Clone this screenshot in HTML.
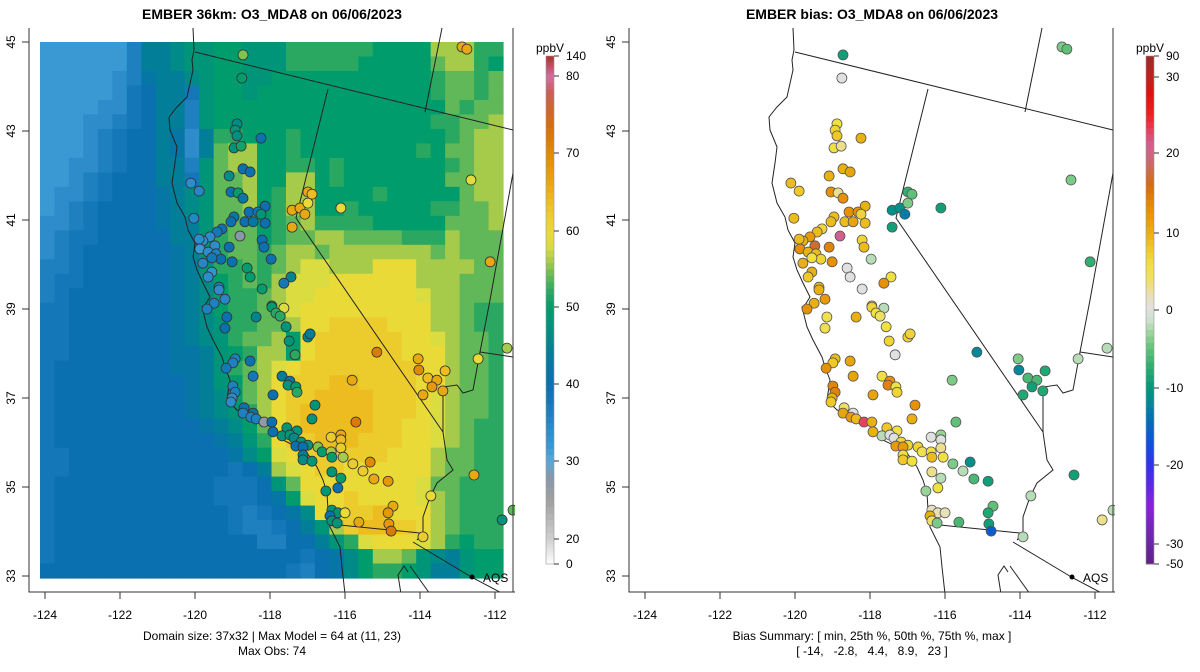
<!DOCTYPE html>
<html><head><meta charset="utf-8">
<style>
html,body{margin:0;padding:0;background:#fff;}
svg{display:block;font-family:"Liberation Sans",Arial,sans-serif;}
</style></head>
<body>
<svg id="fig" width="1200" height="672" viewBox="0 0 1200 672" xmlns="http://www.w3.org/2000/svg">
<defs>
<clipPath id="clipL"><rect x="29" y="28" width="486" height="564"/></clipPath>
<clipPath id="clipR"><rect x="629" y="28" width="486" height="564"/></clipPath>
<g id="geo">
<path d="M193,28 L194,50 L192,60 L193,70 L187,97 L180,104 L177,107 L169,117 L170,130 L177,147 L175,163 L172,183 L177,203 L185,217 L188,230 L195,243 L193,257 L197,270 L203,283 L210,297 L205,305 L202,307 L207,327 L213,340 L222,357 L225,367 L230,380 L227,400 L237,410 L257,415 L270,423 L283,440 L297,447 L307,453 L317,467 L323,480 L327,493 L328,510 L330,527 L340,547 L342,567 L345,594" fill="none" stroke="#222" stroke-width="1"/>
<path d="M195,52 L513,130 M442,28 L425,112 M328,89 L296,218 L443,432 L447,460 L453,470 L437,483 L430,497 L423,517 L423,533 L417,540 M340,525 L420,533 M413,542 L473,578 L515,600 M513,173 L490,300 L480,352 L473,390 L463,393 L457,385 L443,387 L443,432 M480,352 L513,357 M401,594 L398,575 L404,566 L408,572 M410,566 L420,580 L430,594" fill="none" stroke="#222" stroke-width="1"/>
</g>
</defs>
<text x="272" y="19" text-anchor="middle" font-weight="bold" font-size="14">EMBER 36km: O3_MDA8 on 06/06/2023</text>
<text x="872" y="19" text-anchor="middle" font-weight="bold" font-size="14">EMBER bias: O3_MDA8 on 06/06/2023</text>
<g id="left-field" clip-path="url(#clipL)"></g>
<g clip-path="url(#clipL)"><use href="#geo"/></g>
<g clip-path="url(#clipR)"><use href="#geo" transform="translate(600,0)"/></g>
<g id="left-points" clip-path="url(#clipL)"></g>
<g id="right-points" clip-path="url(#clipR)"></g>
<g id="axes"></g>
<g id="cbars"></g>
<text x="272" y="640" text-anchor="middle" font-size="12">Domain size: 37x32 | Max Model = 64 at (11, 23)</text>
<text x="272" y="655" text-anchor="middle" font-size="12">Max Obs: 74</text>
<text x="872" y="640" text-anchor="middle" font-size="12">Bias Summary: [ min, 25th %, 50th %, 75th %, max ]</text>
<text x="872" y="655" text-anchor="middle" font-size="12" xml:space="preserve" style="white-space:pre">[ -14,   -2.8,   4.4,   8.9,   23 ]</text>
</svg>
<script>
// ---- model field (37 rows x 32 cols), letter code: value = 30 + 2*(code-'A')
const fieldRows = [
"BBBBBBDHHIJJKKJJJLLLLLLKKKKNNNLL",
"BBBBBBDHHIJJKKJJJLLLLLKKKKKMNNLK",
"BBBBBCDGHHIJKKJJKKKKKKKKKKKLMMLM",
"BBBBBCEFHHEJKKJKKKKKKKKKKKKLMMLM",
"BBBBCCEFHHDJKKKKKKKKKKKKKKKKMLMM",
"BBBCCDEFHHDJKKKKKKKKKKKKKKKLLMMN",
"BBBCDEFFHGCHLLKKKLKKKKKKKKKKLMNN",
"BBBCDEFFHGCHMNNKKLKKKKKKKKLKMMNN",
"BBCCDEFFHHDJMNNKKLLKLKKKKKKKLMNN",
"BBCDEFFFHHEJMMNKKNNKLKKKKKKKMMNN",
"BCCDEFFFGHIJMMNKLNNKKKKLKKKKKMNN",
"BCDEFFFFGHIJMMNKLNNKKLKKKKKLLMMN",
"CCDEFFFFGHHJMMMKLMNLLLLKKKKKMMMN",
"CDEEFFFFFHHJLMMKLMMNNMMMMLLLNMMM",
"CDEFFFFFFGHJLMMLMNNMNNNNNNNMNMMM",
"DDEFFFFFFGHJLLMLMNOONNNPPPNNNNMM",
"DEEFFFFFFGHIKLMLNOOOPPPPPPNNNMMM",
"DEFFFFFFFGHIKLLMNOOPPPPPPPONNMMM",
"EEFFFFFFFGHIKLLMNOPPPPPPPPPNNMLL",
"EEFFFFFFFGHIJLLMMNPPQQQQPPPNNMLL",
"EEFFFFFFFGHIJLMMNKPQQQQQQPPONMML",
"EEFFFFFFFGGHJKLNNKPQQQQQQPPPNMML",
"EFFFFFFFFGGHJLMNOPQQQQQQQQPPNMML",
"EFFFFFFFFFGHJKMNPQQQRRQQQQPPNMML",
"EFFFFFFFFFGHIKMNPQQRRRRQQQPONMML",
"EFFFFFFFFFGHIJLNPQRRRRRQQQPONMML",
"EFFFFFFFFFFGHIKMPQRRRRRQQPPONMLL",
"EFFFFFFFFFFFGHJLPQQRRRQQQPPONMLL",
"EEFFFFFFFFFFFGIKOPQQQQQQPPPNMMLL",
"EEFFFFFFFFFFFEFHNOPQQPPPPPPNMMLL",
"EFFFFFFFFFFFEEEFJMPPPPPPPPOMMLLL",
"EFFFFFFFFFFFEEEFGKOPPQPPPPONMLLL",
"EFFFFFFFFFFFFEDEFGIPPQQRPPPNMLLL",
"EFFFFFFFFFFFFEDDEFHJNQRRQQPNMLLL",
"EFFFFFFFFFFFFFFDDFFHJLOPPPONLKLL",
"EFFFFFFFFFFFFFFFFFEFGIKNNMJIHJKK",
"FFFFFFFFFFFFFFFFFEDFGIKLLKJHHJKK"
];
// ---- monitor stations
const stLon = [-118.72,-118.75,-118.88,-118.93,-118.88,-118.24,-118.96,-118.77,-112.88,-112.75,-120.11,-119.89,-119.09,-118.72,-118.53,-119.04,-118.85,-118.72,-118.13,-118.56,-118.32,-118.24,-118.96,-119.04,-118.67,-118.45,-118.13,-119.28,-119.41,-120.03,-117.41,-117.2,-117.07,-116.99,-116.88,-116.99,-116.11,-117.41,-112.64,-112.13,-118.8,-119.6,-119.79,-119.89,-119.47,-119.87,-119.65,-119.44,-119.31,-119.55,-119.09,-118.21,-118.16,-119.01,-119.79,-119.55,-119.65,-117.97,-118.61,-118.53,-117.44,-117.63,-118.21,-119.36,-119.36,-119.2,-119.49,-119.68,-117.95,-117.63,-119.15,-118.37,-117.95,-117.84,-117.73,-119.2,-117.57,-116.99,-116.93,-117.49,-117.33,-115.15,-114.05,-114.03,-113.33,-113.79,-113.55,-113.68,-113.39,-113.92,-112.45,-111.68,-118.93,-118.99,-119.17,-118.53,-118.45,-117.68,-117.47,-117.52,-117.31,-117.28,-117.92,-115.81,-118.99,-118.93,-119.01,-119.04,-116.8,-116.88,-115.71,-118.69,-118.72,-118.45,-118.51,-118.37,-118.16,-117.95,-117.55,-117.28,-117.92,-117.68,-117.47,-117.36,-117.17,-116.99,-117.31,-117.12,-116.72,-116.37,-116.11,-116.11,-116.11,-116.61,-116.37,-116.35,-116.05,-117.12,-117.12,-116.88,-115.79,-115.52,-115.33,-115.23,-114.85,-116.35,-116.11,-116.19,-116.51,-112.56,-113.71,-114.72,-114.85,-116.35,-116.19,-116.0,-116.4,-116.35,-116.21,-115.63,-114.83,-114.77,-113.92,-111.81,-111.52];
const stLat = [44.71,44.19,43.16,43.02,42.89,42.84,42.62,42.66,44.89,44.84,41.83,41.65,41.99,42.15,42.08,41.63,41.61,41.49,41.31,41.18,41.18,41.13,41.07,40.96,40.96,40.96,40.93,40.8,40.73,41.04,41.22,41.27,41.13,41.63,41.58,41.38,41.27,40.84,41.9,40.06,40.64,40.62,40.53,40.57,40.42,40.35,40.28,40.24,40.12,40.15,40.39,40.55,40.39,40.06,40.03,39.83,39.72,40.12,39.92,39.72,39.72,39.58,39.45,39.49,39.43,39.22,39.13,39.0,39.07,39.02,38.82,38.82,39.04,38.91,38.84,38.57,38.6,38.37,38.44,38.28,37.97,38.03,37.88,37.63,37.61,37.45,37.4,37.25,37.16,37.07,37.88,38.12,37.88,37.79,37.67,37.83,37.49,37.49,37.38,37.29,37.25,37.13,37.07,37.4,37.27,37.13,37.0,36.91,36.84,36.53,36.46,36.78,36.66,36.66,36.57,36.53,36.46,36.46,36.33,36.26,36.24,36.15,36.17,36.1,36.01,35.94,35.92,35.9,35.9,36.12,36.17,36.06,35.88,35.79,35.79,35.67,35.67,35.72,35.61,35.58,35.52,35.36,35.56,35.18,35.13,35.34,35.2,34.98,34.91,35.27,34.8,34.57,34.42,34.48,34.42,34.42,34.35,34.24,34.19,34.21,34.17,34.01,33.88,34.26,34.48];
const obsValues = [55,50,46,48,47,40,48,51,66,66,34,35,46,40,40,40,50,42,40,40,38,48,42,40,40,42,40,40,38,35,66,66,66,66,64,60,60,66,59,66,28,34,34,34,34,32,34,36,40,38,40,40,40,40,35,33,34,40,50,50,45,38,50,36,34,35,36,36,48,58,40,45,50,52,52,40,48,45,44,48,52,72,66,70,64,64,66,68,66,66,60,56,36,36,38,40,38,44,42,48,50,52,40,66,36,36,34,34,48,48,72,40,36,42,36,36,27,40,48,48,40,48,48,46,48,48,40,40,55,62,66,64,62,50,56,50,56,44,46,48,62,62,70,66,68,48,50,40,48,66,60,66,68,48,48,60,40,48,48,66,68,72,62,48,54];
const biasValues = [-9,0,6,7,8,10,6,3,-4,-5,9,8,10,10,11,13,3,13,10,13,13,7,9,9,9,11,9,7,9,9,-11,-11,-13,-7,-5,-4,-9,-9,-4,-7,21,12,10,9,17,13,10,9,7,6,14,7,9,13,10,10,8,-2,0,0,6,13,0,9,10,12,10,13,7,-2,5,10,7,6,4,5,6,7,7,7,0,-12,-4,-12,-8,-6,-6,-9,-8,-8,-2,-2,9,8,13,11,11,6,13,14,6,7,11,-4,14,14,10,8,13,10,-5,4,11,0,12,9,23,10,8,6,10,-2,0,0,7,7,12,12,7,0,-3,0,3,5,6,9,6,6,8,6,-4,-2,-11,-6,-9,3,-2,6,-3,-9,-2,-5,-8,2,2,2,10,4,-4,-6,-9,-16,-2,3,-2];
// ---- axis ticks
const lonTicks = [-124,-122,-120,-118,-116,-114,-112];
const latTicks = [33,35,37,39,41,43,45];
const obsBarTicks = [0,20,30,40,50,60,70,80,140];
const biasBarTicks = [-50,-30,-20,-10,0,10,20,30,90];

const NS = "http://www.w3.org/2000/svg";
function mk(tag, attrs, parent){
  const e = document.createElementNS(NS, tag);
  for (const k in attrs) e.setAttribute(k, attrs[k]);
  parent.appendChild(e);
  return e;
}
function sx(lon, off){ return off + 45 + (lon + 124) * 37.5; }
function sy(lat){ return 576 - (lat - 33) * 44.5; }

function hex2rgb(h){ return [parseInt(h.substr(1,2),16),parseInt(h.substr(3,2),16),parseInt(h.substr(5,2),16)]; }
function interpColor(stops, v){
  if (v <= stops[0][0]) return stops[0][1];
  for (let i=1;i<stops.length;i++){
    if (v <= stops[i][0]){
      const a=stops[i-1], b=stops[i];
      const t=(v-a[0])/(b[0]-a[0]);
      const ca=hex2rgb(a[1]), cb=hex2rgb(b[1]);
      return "rgb("+ca.map((c,j)=>Math.round(c+(cb[j]-c)*t)).join(",")+")";
    }
  }
  return stops[stops.length-1][1];
}
const obsStops = [[0,"#ffffff"],[20,"#d0d0d0"],[25,"#a0a0a0"],[28,"#8898a8"],[30,"#5aa8d8"],[32,"#3a98d2"],[34,"#2e8cca"],[36,"#1f80c0"],[38,"#1478b8"],[40,"#0a70b0"],[42,"#0676a4"],[44,"#027e98"],[46,"#008a88"],[48,"#009478"],[50,"#009c6c"],[52,"#2aa862"],[54,"#60b858"],[56,"#a6ca4a"],[58,"#dadc40"],[60,"#eada38"],[62,"#eccc2c"],[64,"#ecbc20"],[66,"#e8a812"],[70,"#e08a00"],[74,"#d86a10"],[78,"#c8605a"],[80,"#d070a0"],[140,"#b03030"]];
const biasStops = [[-50,"#602080"],[-30,"#6828a0"],[-25,"#8a20e0"],[-20,"#3030f0"],[-17,"#1050e0"],[-14,"#0070b8"],[-12,"#008898"],[-10,"#00987a"],[-7,"#30b070"],[-5,"#60c078"],[-3,"#98d498"],[-1.5,"#c8e0c8"],[0,"#e0e0e0"],[2,"#e8e0b8"],[4,"#f0e060"],[6,"#f0e040"],[8,"#f0c828"],[10,"#e8b010"],[13,"#e89000"],[16,"#d86a10"],[19,"#c86a70"],[21,"#d06090"],[23,"#e84060"],[25,"#f02020"],[28,"#e01010"],[30,"#c02020"],[90,"#a02828"]];

// ---- field
const fieldG = document.getElementById("left-field");
const nR = fieldRows.length, nC = 32;
const cw = 463 / nC, ch = 536 / nR;
for (let r=0;r<nR;r++){
  for (let c=0;c<nC;c++){
    const code = fieldRows[r].charCodeAt(Math.min(c, fieldRows[r].length-1)) - 65;
    const v = 30 + 2*code;
    const cell = mk("rect",{x:(40+c*cw).toFixed(2),y:(42+r*ch).toFixed(2),width:(cw+0.6).toFixed(2),height:(ch+0.6).toFixed(2),fill:interpColor(obsStops,v)},fieldG);
    
    
  }
}

// ---- points
const lp = document.getElementById("left-points"), rp = document.getElementById("right-points");
for (let i=0;i<stLon.length;i++){
  const a = mk("circle",{cx:sx(stLon[i],0),cy:sy(stLat[i]),r:5,fill:interpColor(obsStops,obsValues[i]),stroke:"#333","stroke-width":0.8},lp);
  
  
  const b = mk("circle",{cx:sx(stLon[i],600),cy:sy(stLat[i]),r:5,fill:interpColor(biasStops,biasValues[i]),stroke:"#555","stroke-width":0.8},rp);
  
  
}

// ---- axes
const ax = document.getElementById("axes");
[0,600].forEach(off=>{
  const frame = mk("path",{d:`M${off+29},28 L${off+29},592 L${off+515},592 M${off+513},28 L${off+513},592`,fill:"none",stroke:"#333","stroke-width":1},ax);
  
  
  lonTicks.forEach(t=>{
    const x = sx(t,off);
    const tk = mk("line",{x1:x,x2:x,y1:592,y2:599,stroke:"#333"},ax);
    
    
    const lb = mk("text",{x:x,y:619,"text-anchor":"middle","font-size":12},ax);
    lb.textContent = String(t);
    
    
  });
  latTicks.forEach(t=>{
    const y = sy(t);
    const tk = mk("line",{x1:off+22,x2:off+29,y1:y,y2:y,stroke:"#333"},ax);
    
    
    const lb = mk("text",{x:0,y:0,"text-anchor":"middle","font-size":12,transform:`translate(${off+15},${y}) rotate(-90)`},ax);
    lb.textContent = String(t);
    
    
  });
  const dot = mk("circle",{cx:off+472,cy:577,r:2.5,fill:"#000"},ax);
  
  
  const aq = mk("text",{x:off+483,y:582,"font-size":12},ax);
  aq.textContent = "AQS";
  
  
});

// ---- colorbars
const cb = document.getElementById("cbars");
function drawBar(x0, vals, ys, stops, ticks){
  const ymap = v => { for(let i=1;i<vals.length;i++){ if(v<=vals[i]){ const t=(v-vals[i-1])/(vals[i]-vals[i-1]); return ys[i-1]+(ys[i]-ys[i-1])*t; } } return ys[ys.length-1]; };
  for (let i=0;i<vals.length-1;i++){
    const n=12;
    for (let k=0;k<n;k++){
      const v0 = vals[i]+(vals[i+1]-vals[i])*k/n, v1 = vals[i]+(vals[i+1]-vals[i])*(k+1)/n;
      const y0=ymap(v0), y1=ymap(v1);
      const s = mk("rect",{x:x0,y:Math.min(y0,y1),width:8,height:Math.abs(y1-y0)+0.5,fill:interpColor(stops,(v0+v1)/2)},cb);
      
      
    }
  }
  const br = mk("rect",{x:x0,y:56,width:8,height:508,fill:"none",stroke:"#999","stroke-width":0.6},cb);
  
  
  ticks.forEach(t=>{
    const y = ymap(t);
    const tl = mk("line",{x1:x0+8,x2:x0+13,y1:y,y2:y,stroke:"#333"},cb);
    
    
    const lb = mk("text",{x:x0+20,y:y+4,"font-size":12},cb);
    lb.textContent = String(t);
    
    
  });
  const u = mk("text",{x:x0+4,y:52,"text-anchor":"middle","font-size":12},cb);
  u.textContent = "ppbV";
  
  
}
drawBar(546,[0,20,30,40,50,60,70,80,140],[564,539,461,384,307,231,153,76,56],obsStops,obsBarTicks);
drawBar(1146,[-50,-30,-20,-10,0,10,20,30,90],[564,544,465,388,310,233,153,77,56],biasStops,biasBarTicks);
</script>
</body></html>
